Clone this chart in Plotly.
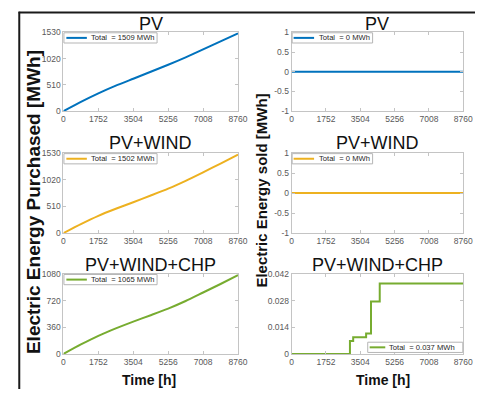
import plotly.graph_objects as go
from plotly.subplots import make_subplots

# ---------------- data ----------------
scenarios = ["PV", "PV+WIND", "PV+WIND+CHP"]
hours = [0, 876, 1752, 2628, 3504, 4380, 5256, 6132, 7008, 7884, 8760]
purchased_pv = [0, 180, 345, 495, 630, 765, 900, 1045, 1200, 1355, 1509]
purchased_pv_wind = [0, 172, 330, 465, 590, 718, 850, 1000, 1163, 1330, 1502]
purchased_pv_wind_chp = [0, 128, 245, 345, 437, 523, 612, 715, 830, 945, 1065]

sold_hours_flat = [0, 8760]
sold_pv = [0, 0]
sold_pv_wind = [0, 0]
sold_hours_chp = [0, 2975, 3140, 3800, 4050, 4495, 8760]
sold_pv_wind_chp = [0, 0.0068, 0.0088, 0.0107, 0.0275, 0.037, 0.037]

total_purchased = ["1509", "1502", "1065"]
total_sold = ["0", "0", "0.037"]

x_ticks = [0, 1752, 3504, 5256, 7008, 8760]
y_ticks_purchased = [[0, 510, 1020, 1530], [0, 510, 1020, 1530], [0, 360, 720, 1080]]
y_ticks_sold = [[-1, -0.5, 0, 0.5, 1], [-1, -0.5, 0, 0.5, 1], [0, 0.014, 0.028, 0.042]]
y_ticktext_sold = [["-1", "-0.5", "0", "0.5", "1"], ["-1", "-0.5", "0", "0.5", "1"],
                   ["0", "0.014", "0.028", "0.042"]]

colors = ["#0072BD", "#EDB120", "#77AC30"]

# ---------------- layout helpers ----------------
W, H = 485, 394
FONT = "Liberation Sans, Arial, sans-serif"


def px(x):
    return x / W


def py(y):
    return 1 - y / H


col_x = {1: (63, 242), 2: (297, 473)}
row_y = {1: (28, 109), 2: (152, 234), 3: (276, 358)}

fig = make_subplots(rows=3, cols=2)

purchased = [purchased_pv, purchased_pv_wind, purchased_pv_wind_chp]
sold_x = [sold_hours_flat, sold_hours_flat, sold_hours_chp]
sold_y = [sold_pv, sold_pv_wind, sold_pv_wind_chp]

for i in range(3):
    fig.add_trace(go.Scatter(x=hours, y=purchased[i], mode="lines",
                             line=dict(color=colors[i], width=2, shape="spline", smoothing=0.6),
                             showlegend=False),
                  row=i + 1, col=1)
    fig.add_trace(go.Scatter(x=sold_x[i], y=sold_y[i], mode="lines",
                             line=dict(color=colors[i], width=2, shape="hv"),
                             showlegend=False),
                  row=i + 1, col=2)

axis_common = dict(showgrid=False, zeroline=False, showline=True, linecolor="#c4c4c4",
                   linewidth=1, mirror="ticks", ticks="inside", ticklen=3,
                   tickcolor="#c4c4c4",
                   tickfont=dict(family=FONT, size=8.5, color="#595959"))

for r in range(1, 4):
    for c in range(1, 3):
        idx = (r - 1) * 2 + c
        xa = "xaxis" if idx == 1 else f"xaxis{idx}"
        ya = "yaxis" if idx == 1 else f"yaxis{idx}"
        x0, x1 = col_x[c]
        y0, y1 = row_y[r]
        fig.layout[xa].update(domain=[px(x0), px(x1)], range=[0, 8760],
                              tickvals=x_ticks, ticktext=[str(t) for t in x_ticks],
                              **axis_common)
        if c == 1:
            yt = y_ticks_purchased[r - 1]
            fig.layout[ya].update(domain=[py(y1), py(y0)], range=[yt[0], yt[-1]],
                                  tickvals=yt, ticktext=[str(t) for t in yt], **axis_common)
        else:
            yt = y_ticks_sold[r - 1]
            fig.layout[ya].update(domain=[py(y1), py(y0)], range=[yt[0], yt[-1]],
                                  tickvals=yt, ticktext=y_ticktext_sold[r - 1], **axis_common)

# titles
title_y = {1: 20, 2: 142, 3: 267}
for r in range(1, 4):
    for c in range(1, 3):
        x0, x1 = col_x[c]
        fig.add_annotation(x=px((x0 + x1) / 2), y=py(title_y[r]), xref="paper", yref="paper",
                           text=scenarios[r - 1], showarrow=False, xanchor="center",
                           yanchor="middle", font=dict(family=FONT, size=18, color="#111111"))


# legends (drawn as boxes like the MATLAB figure)
def legend(bx0, bx1, by0, by1, lx0, lx1, tx, color, text):
    yc = (by0 + by1) / 2
    fig.add_shape(type="rect", xref="paper", yref="paper", x0=px(bx0), x1=px(bx1),
                  y0=py(by1), y1=py(by0), line=dict(color="#b5b5b5", width=1),
                  fillcolor="white", layer="above")
    fig.add_shape(type="line", xref="paper", yref="paper", x0=px(lx0), x1=px(lx1),
                  y0=py(yc), y1=py(yc), line=dict(color=color, width=2), layer="above")
    fig.add_annotation(x=px(tx), y=py(yc), xref="paper", yref="paper", text=text,
                       showarrow=False, xanchor="left", yanchor="middle",
                       font=dict(family=FONT, size=7.6, color="#262626"))


for r in range(1, 4):
    y0 = row_y[r][0]
    legend(63.5, 159, y0 + 0.5, y0 + 11, 66, 87, 89, colors[r - 1],
           f"Total&nbsp; = {total_purchased[r - 1]} MWh")
legend(297.5, 380, 28.5, 39, 299, 320, 323, colors[0], f"Total&nbsp; = {total_sold[0]} MWh")
legend(297.5, 380, 152.5, 163, 299, 320, 323, colors[1], f"Total&nbsp; = {total_sold[1]} MWh")
legend(375, 472.5, 346, 356.5, 377, 393, 395, colors[2], f"Total&nbsp; = {total_sold[2]} MWh")

# axis titles
fig.add_annotation(x=px(33), y=py(202), xref="paper", yref="paper",
                   text="<b>Electric Energy Purchased [MWh]</b>", textangle=-90,
                   showarrow=False, xanchor="center", yanchor="middle",
                   font=dict(family=FONT, size=19, color="#111111"))
fig.add_annotation(x=px(266), y=py(190), xref="paper", yref="paper",
                   text="<b>Electric Energy sold [MWh]</b>", textangle=-90,
                   showarrow=False, xanchor="center", yanchor="middle",
                   font=dict(family=FONT, size=15, color="#111111"))
for cx in (151, 391):
    fig.add_annotation(x=px(cx), y=py(385), xref="paper", yref="paper",
                       text="<b>Time [h]</b>", showarrow=False, xanchor="center",
                       yanchor="middle", font=dict(family=FONT, size=14, color="#111111"))

# outer frame lines
fig.add_shape(type="line", xref="paper", yref="paper", x0=px(17), x1=1, y0=py(7.7), y1=py(7.7),
              line=dict(color="#1a1a1a", width=2))
fig.add_shape(type="line", xref="paper", yref="paper", x0=px(17.7), x1=px(17.7), y0=py(7), y1=0,
              line=dict(color="#1a1a1a", width=2))

fig.update_layout(width=W, height=H, margin=dict(l=0, r=0, t=0, b=0),
                  paper_bgcolor="white", plot_bgcolor="white", showlegend=False,
                  font=dict(family=FONT))

fig.write_html("out.html", config={"displayModeBar": False},
               post_script="document.body.style.margin='0';document.body.style.overflow='hidden';")
